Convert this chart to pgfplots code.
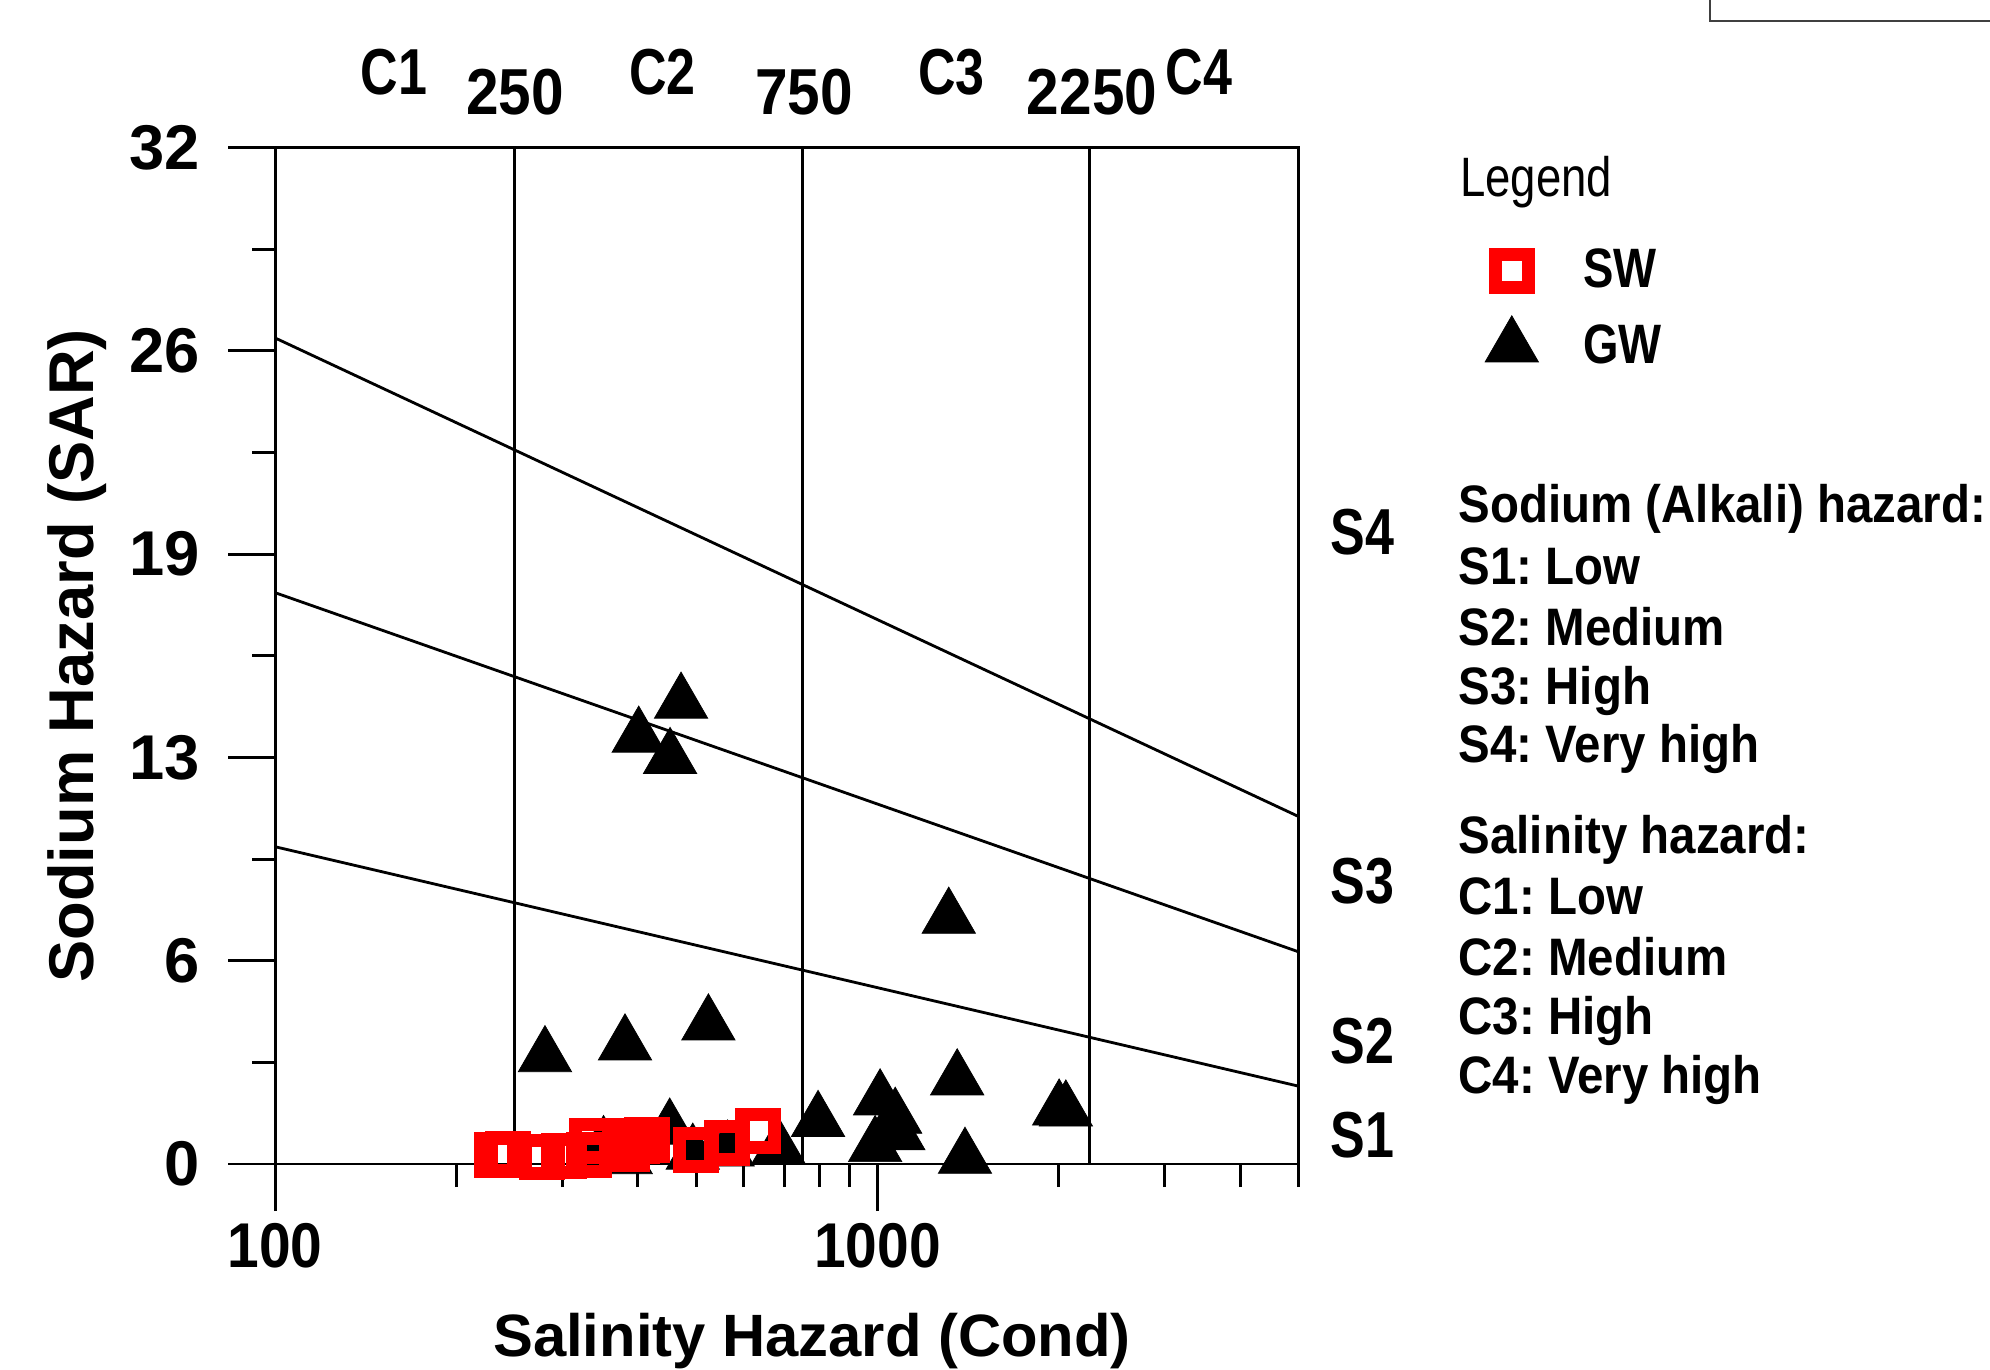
\documentclass[border=0pt]{standalone}
\usepackage{fontspec}
\setmainfont{Liberation Sans}
\newfontfamily\tickfont{Liberation Sans}[FakeStretch=0.9]
\newfontfamily\txtfont{Liberation Sans}[FakeStretch=0.9]
\newfontfamily\sfont{Liberation Sans}[FakeStretch=0.8]
\newfontfamily\lgfont{Liberation Sans}[FakeStretch=0.82]
\usepackage{pgfplots}
\pgfplotsset{compat=1.18}
\definecolor{swred}{RGB}{255,0,0}
\frenchspacing

\pgfplotstableread{
x y
472 14.52
401.5 13.45
452.6 12.78
1313 7.75
524 4.39
381 3.76
280.6 3.39
1356 2.66
1010 2.03
1070 1.45
797 1.35
2002 1.71
2054 1.68
991 0.56
1083 0.93
1397 0.19
452 1.11
351 0.56
382 0.18
493.6 0.32
564 0.42
685 0.50
}\gwdata

\pgfplotstableread{
x y
234 0.28
243.4 0.31
277.5 0.21
301.5 0.25
331.7 0.27
336 0.73
384 0.48
399 0.73
414.7 0.76
500.6 0.44
562 0.67
634.6 1.05
}\swdata

\begin{document}
\begin{tikzpicture}
\useasboundingbox (-27.5mm,-20.5mm) rectangle (171.5mm,116.4mm);
\begin{axis}[
  at={(0,0)}, anchor=south west,
  scale only axis, width=102.36mm, height=101.63mm,
  xmode=log, xmin=100, xmax=5000, ymin=0, ymax=32,
  clip=false,
  axis line style={line width=0.85pt, black},
  tick style={line width=0.85pt, black},
  tick align=outside, tick pos=left,
  major tick length=4.7mm, minor tick length=2.3mm,
  xtick={100,1000}, xticklabels={100,1000},
  minor xtick={200,300,400,500,600,700,800,900,2000,3000,4000,5000},
  ytick={0,6.4,12.8,19.2,25.6,32}, yticklabels={0,6,13,19,26,32},
  minor ytick={3.2,9.6,16,22.4,28.8},
  /pgf/number format/assume math mode=true,
  xticklabel style={font=\tickfont\bfseries\fontsize{18}{18}\selectfont},
  yticklabel style={font=\bfseries\fontsize{18}{18}\selectfont, xshift=-1.6mm},
  xlabel={Salinity Hazard (Cond)},
  ylabel={Sodium Hazard (SAR)},
  xlabel style={at={(axis description cs:0.5246,-0.1899)}, anchor=base, font=\bfseries\fontsize{17}{17}\selectfont},
  ylabel style={at={(axis description cs:-0.1775,0.5)}, anchor=base, font=\bfseries\fontsize{18}{18}\selectfont},
  legend style={at={(axis description cs:1.1815,0.9013)}, anchor=north west,
    draw=none, fill=none, inner sep=0pt, row sep=2.3mm,
    nodes={inner sep=0pt},
    /tikz/every odd column/.append style={column sep=4.46mm},
    font=\lgfont\bfseries\fontsize{15.8}{15.8}\selectfont},
  legend cell align=left,
  legend image code/.code={\draw[#1] plot coordinates {(0mm,0mm)};},
]
\addlegendimage{only marks, mark=square, mark size=1.65mm, line width=1.3mm, swred}
\addlegendimage{only marks, mark=triangle*, mark size=3.08mm, line width=0.2pt, black, fill=black}
\addlegendentry{SW}
\addlegendentry{GW}
% boundary lines
\addplot[black, line width=0.8pt, forget plot] coordinates {(100,9.99) (5000,2.45)};
\addplot[black, line width=0.8pt, forget plot] coordinates {(100,17.99) (5000,6.68)};
\addplot[black, line width=0.8pt, forget plot] coordinates {(100,26.01) (5000,10.94)};
\addplot[black, line width=0.85pt, forget plot] coordinates {(250,0) (250,32)};
\addplot[black, line width=0.85pt, forget plot] coordinates {(750,0) (750,32)};
\addplot[black, line width=0.85pt, forget plot] coordinates {(2250,0) (2250,32)};
% data
\addplot[only marks, mark=triangle*, mark size=3.08mm, line width=0.2pt, black, fill=black, forget plot] table[x=x,y=y] {\gwdata};
\addplot[only marks, mark=square, mark size=1.65mm, line width=1.3mm, swred, forget plot] table[x=x,y=y] {\swdata};
\end{axis}
% top labels
\begin{scope}[every node/.style={inner sep=0pt, anchor=base}]
\node[font=\sfont\bfseries\fontsize{18.5}{18.5}\selectfont] at (11.9mm,106.97mm) {C1};
\node[font=\tickfont\bfseries\fontsize{18.5}{18.5}\selectfont] at (24.0mm,104.9mm) {250};
\node[font=\sfont\bfseries\fontsize{18.5}{18.5}\selectfont] at (38.75mm,106.97mm) {C2};
\node[font=\tickfont\bfseries\fontsize{18.5}{18.5}\selectfont] at (52.9mm,104.9mm) {750};
\node[font=\sfont\bfseries\fontsize{18.5}{18.5}\selectfont] at (67.65mm,106.97mm) {C3};
\node[font=\tickfont\bfseries\fontsize{18.5}{18.5}\selectfont] at (81.7mm,104.9mm) {2250};
\node[font=\sfont\bfseries\fontsize{18.5}{18.5}\selectfont] at (92.4mm,106.97mm) {C4};
\end{scope}
% S labels
\begin{scope}[every node/.style={inner sep=0pt, anchor=base west, font=\sfont\bfseries\fontsize{18.5}{18.5}\selectfont}]
\node at (105.5mm,60.94mm) {S4};
\node at (105.5mm,26.04mm) {S3};
\node at (105.5mm,10.05mm) {S2};
\node at (105.5mm,0.66mm) {S1};
\end{scope}
% legend title and explanation
\node[inner sep=0pt, anchor=base west, font=\lgfont\fontsize{15.8}{15.8}\selectfont] at (118.46mm,96.73mm) {Legend};
\begin{scope}[every node/.style={inner sep=0pt, anchor=base west, font=\txtfont\bfseries\fontsize{15}{15}\selectfont}]
\node at (118.3mm,64.18mm) {Sodium (Alkali) hazard:};
\node at (118.3mm,57.98mm) {S1: Low};
\node at (118.3mm,51.88mm) {S2: Medium};
\node at (118.3mm,45.99mm) {S3: High};
\node at (118.3mm,40.10mm) {S4: Very high};
\node at (118.3mm,31.05mm) {Salinity hazard:};
\node at (118.3mm,24.95mm) {C1: Low};
\node at (118.3mm,18.84mm) {C2: Medium};
\node at (118.3mm,12.95mm) {C3: High};
\node at (118.3mm,7.06mm) {C4: Very high};
\end{scope}
\draw[line width=0.4pt, black!75] (143.5mm,114.3mm) rectangle (175mm,120mm);
\end{tikzpicture}
\end{document}
